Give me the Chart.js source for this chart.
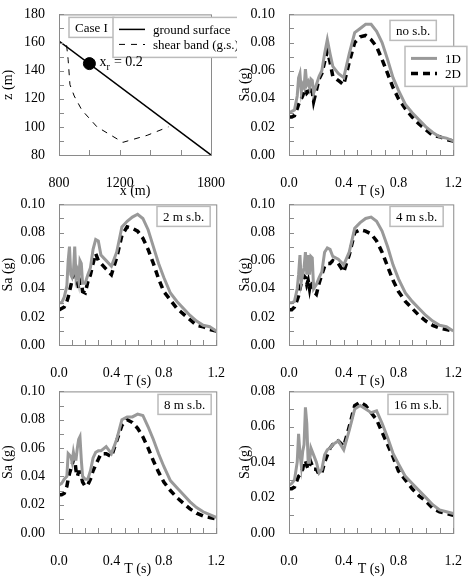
<!DOCTYPE html>
<html>
<head>
<meta charset="utf-8">
<script src="https://cdn.jsdelivr.net/npm/chart.js@4"></script>
<style>
body { margin: 0; background: #fff; }
.p { position: absolute; }
</style>
</head>
<body>
<div id="wrap"></div>
<script>
// periods (s) shared by all spectra
const T = [0,0.02,0.04,0.06,0.07,0.08,0.09,0.10,0.11,0.12,0.13,0.14,0.15,0.16,0.17,0.18,0.20,0.22,0.24,0.26,0.28,0.30,0.32,0.36,0.40,0.44,0.48,0.52,0.56,0.60,0.64,0.68,0.72,0.76,0.80,0.85,0.90,0.95,1.00,1.05,1.10,1.15,1.20];

const noSb1D = [0.030,0.031,0.032,0.042,0.055,0.058,0.045,0.050,0.048,0.061,0.050,0.052,0.048,0.054,0.053,0.044,0.050,0.056,0.060,0.072,0.082,0.072,0.063,0.058,0.055,0.072,0.087,0.090,0.093,0.093,0.088,0.080,0.068,0.055,0.046,0.036,0.030,0.025,0.020,0.016,0.013,0.012,0.010];
const noSb2D = [0.027,0.027,0.028,0.033,0.036,0.038,0.040,0.042,0.045,0.047,0.044,0.045,0.043,0.046,0.045,0.038,0.046,0.054,0.058,0.066,0.074,0.066,0.056,0.053,0.050,0.066,0.080,0.084,0.085,0.082,0.077,0.068,0.058,0.048,0.040,0.033,0.027,0.022,0.018,0.014,0.013,0.011,0.010];
const sb2m1D = [0.030,0.030,0.034,0.042,0.060,0.070,0.050,0.048,0.052,0.070,0.048,0.052,0.046,0.060,0.058,0.044,0.044,0.050,0.055,0.068,0.075,0.074,0.064,0.060,0.056,0.066,0.084,0.088,0.091,0.093,0.090,0.082,0.070,0.058,0.048,0.037,0.031,0.026,0.021,0.017,0.014,0.013,0.010];
const sb2m2D = [0.025,0.026,0.027,0.031,0.034,0.038,0.042,0.046,0.050,0.050,0.048,0.046,0.040,0.044,0.046,0.038,0.037,0.045,0.050,0.058,0.065,0.060,0.058,0.054,0.050,0.062,0.078,0.084,0.083,0.081,0.076,0.068,0.058,0.047,0.038,0.032,0.026,0.022,0.018,0.014,0.013,0.011,0.010];
const sb4m1D = [0.030,0.030,0.031,0.040,0.050,0.064,0.045,0.050,0.055,0.066,0.050,0.064,0.050,0.063,0.062,0.040,0.043,0.048,0.052,0.066,0.069,0.068,0.063,0.061,0.057,0.066,0.083,0.087,0.090,0.091,0.088,0.081,0.070,0.057,0.047,0.037,0.031,0.026,0.021,0.017,0.014,0.013,0.010];
const sb4m2D = [0.025,0.025,0.027,0.032,0.035,0.040,0.044,0.048,0.049,0.048,0.043,0.046,0.040,0.046,0.045,0.038,0.036,0.044,0.050,0.056,0.058,0.058,0.060,0.058,0.052,0.064,0.080,0.082,0.081,0.079,0.074,0.066,0.056,0.046,0.038,0.031,0.026,0.021,0.017,0.014,0.012,0.011,0.010];
const sb8m1D = [0.034,0.035,0.038,0.040,0.056,0.055,0.054,0.050,0.057,0.052,0.052,0.060,0.066,0.068,0.052,0.040,0.038,0.038,0.044,0.053,0.057,0.058,0.058,0.061,0.056,0.066,0.080,0.082,0.082,0.084,0.083,0.075,0.066,0.056,0.047,0.037,0.032,0.027,0.022,0.018,0.015,0.013,0.011];
const sb8m2D = [0.027,0.027,0.028,0.033,0.038,0.042,0.045,0.048,0.052,0.052,0.044,0.040,0.043,0.043,0.040,0.036,0.033,0.034,0.038,0.044,0.048,0.052,0.056,0.056,0.054,0.065,0.076,0.080,0.078,0.074,0.068,0.060,0.051,0.043,0.036,0.030,0.025,0.021,0.017,0.014,0.012,0.011,0.010];
const sb16m1D = [0.027,0.028,0.030,0.040,0.056,0.045,0.038,0.046,0.050,0.071,0.062,0.040,0.040,0.048,0.046,0.044,0.040,0.034,0.036,0.044,0.047,0.048,0.050,0.052,0.047,0.058,0.070,0.072,0.070,0.068,0.069,0.062,0.054,0.045,0.039,0.032,0.028,0.024,0.020,0.016,0.013,0.012,0.011];
const sb16m2D = [0.025,0.025,0.026,0.030,0.032,0.033,0.035,0.036,0.040,0.041,0.038,0.036,0.038,0.040,0.038,0.036,0.036,0.033,0.034,0.040,0.044,0.048,0.050,0.052,0.049,0.060,0.072,0.074,0.072,0.068,0.064,0.057,0.050,0.043,0.035,0.030,0.025,0.021,0.018,0.014,0.012,0.011,0.010];

// geometry panel (Case I)
const groundX = [800, 1800];
const groundZ = [161, 80];
const bandX = [850, 860, 872, 900, 950, 1050, 1220, 1380, 1520];
const bandZ = [158, 148, 130, 122, 112, 100, 89, 94, 100];
const pointX = [1000];
const pointZ = [145];

const FONT = '"Liberation Serif", "DejaVu Serif", serif';
const pts = (xs, ys) => xs.map((x, i) => ({ x: x, y: ys[i] }));

// frame + inward ticks + text boxes
const decor = {
  id: 'decor',
  afterDraw(chart, args, o) {
    const c = chart.ctx, a = chart.chartArea;
    c.save();
    c.strokeStyle = '#8a8a8a'; c.lineWidth = 1;
    c.strokeRect(a.left + 0.5, a.top + 0.5, a.right - a.left, a.bottom - a.top);
    const xs = chart.scales.x, ys = chart.scales.y;
    c.beginPath();
    for (let v = xs.min; v <= xs.max + 1e-9; v += o.xMinor) {
      const px = Math.round(xs.getPixelForValue(v)) + 0.5;
      c.moveTo(px, a.bottom); c.lineTo(px, a.bottom - 5);
    }
    for (let v = ys.min; v <= ys.max + 1e-9; v += o.yMinor) {
      const py = Math.round(ys.getPixelForValue(v)) + 0.5;
      c.moveTo(a.left, py); c.lineTo(a.left + 5, py);
    }
    c.stroke();
    c.font = '13px ' + FONT; c.fillStyle = '#000'; c.textBaseline = 'middle';
    (o.boxes || []).forEach(b => {
      let w = b.text ? c.measureText(b.text).width + 12 : 0;
      (b.items || []).forEach(it => { w = Math.max(w, c.measureText(it.label).width + 46); });
      const h = b.items ? 10 + b.items.length * 15 : 20;
      const x = a.left + b.x, y = a.top + b.y;
      c.fillStyle = '#fff'; c.fillRect(x, y, w, h);
      c.strokeStyle = '#bbb'; c.lineWidth = 1.5; c.strokeRect(x, y, w, h);
      c.fillStyle = '#000';
      if (b.text) c.fillText(b.text, x + 6, y + h / 2 + 1);
      (b.items || []).forEach((it, i) => {
        const yy = y + 12 + i * 15;
        c.strokeStyle = it.color; c.lineWidth = it.width; c.setLineDash(it.dash);
        c.beginPath(); c.moveTo(x + 6, yy); c.lineTo(x + 32, yy); c.stroke();
        c.setLineDash([]);
        c.fillStyle = '#000';
        c.textAlign = it.right ? 'right' : 'left';
        c.fillText(it.label, it.right ? x + w - 6 : x + 40, yy + 1);
        c.textAlign = 'left';
      });
    });
    if (o.xr) {
      c.font = '14px ' + FONT;
      const px = xs.getPixelForValue(o.xr.x) + 10, py = ys.getPixelForValue(o.xr.y);
      c.fillText('x', px, py - 1);
      c.font = '10px ' + FONT; c.fillText('r', px + 7, py + 4);
      c.font = '14px ' + FONT; c.fillText(' = 0.2', px + 11, py - 1);
    }
    c.restore();
  }
};

function axis(title, min, max, step, dec, pad) {
  return {
    type: 'linear', min: min, max: max,
    border: { display: false },
    grid: { display: false },
    ticks: { stepSize: step, color: '#000', font: { family: FONT, size: 14 },
      callback: v => v.toFixed(dec), maxRotation: 0, autoSkip: false, padding: pad },
    title: { display: true, text: title, color: '#000', font: { family: FONT, size: 14 }, padding: 0 }
  };
}

function panel(left, top, h, padR, yW, datasets, xs, ys, decorOpts) {
  const w = 237;
  const cv = document.createElement('canvas');
  cv.width = w; cv.height = h;
  cv.className = 'p';
  cv.style.left = left + 'px'; cv.style.top = top + 'px';
  cv.style.width = w + 'px'; cv.style.height = h + 'px';
  document.getElementById('wrap').appendChild(cv);
  xs.afterFit = sc => { sc.height = 45; };
  ys.afterFit = sc => { sc.width = yW; };
  new Chart(cv.getContext('2d'), {
    type: 'line',
    data: { datasets: datasets },
    options: {
      responsive: false, animation: false,
      layout: { padding: { top: 11, right: padR, left: 0, bottom: 0 } },
      scales: { x: xs, y: ys },
      plugins: { legend: { display: false }, tooltip: { enabled: false }, decor: decorOpts }
    },
    plugins: [decor]
  });
}

function spectra(d1, d2) {
  return [
    { data: pts(T, d1), borderColor: '#999', borderWidth: 3, pointRadius: 0, tension: 0 },
    { data: pts(T, d2), borderColor: '#000', borderWidth: 3.5, borderDash: [7, 5], pointRadius: 0, tension: 0 }
  ];
}

const specLegend = [
  { label: '1D', color: '#999', width: 3, dash: [], right: true },
  { label: '2D', color: '#000', width: 3.5, dash: [7, 5], right: true }
];

const tx = () => axis('T (s)', 0, 1.2, 0.4, 1, 12);
const sa = (max) => axis('Sa (g)', 0, max, 0.02, 2, 6);

// Case I geometry
panel(0, 0, 200, 6, 59, [
  { data: pts(groundX, groundZ), borderColor: '#000', borderWidth: 1.5, pointRadius: 0 },
  { data: pts(bandX, bandZ), borderColor: '#000', borderWidth: 1, borderDash: [6, 6], pointRadius: 0 },
  { data: pts(pointX, pointZ), showLine: false, pointRadius: 6, pointBackgroundColor: '#000', pointBorderColor: '#000' }
], axis('x (m)', 800, 1800, 400, 0, 12), axis('z (m)', 80, 180, 20, 0, 6),
{ xMinor: 200, yMinor: 10, xr: { x: 1000, y: 145 }, boxes: [
  { text: 'Case I', x: 10, y: 3 },
  { x: 54, y: 3, items: [
    { label: 'ground surface', color: '#000', width: 1.5, dash: [] },
    { label: 'shear band (g.s.)', color: '#000', width: 1, dash: [6, 6] }
  ] }
] });

panel(237, 0, 200, 12, 52, spectra(noSb1D, noSb2D), tx(), sa(0.1),
  { xMinor: 0.1, yMinor: 0.01, boxes: [ { text: 'no s.b.', x: 101, y: 6 }, { x: 116, y: 32, items: specLegend } ] });

panel(0, 190, 200, 6, 59, spectra(sb2m1D, sb2m2D), tx(), sa(0.1),
  { xMinor: 0.1, yMinor: 0.01, boxes: [ { text: '2 m s.b.', x: 98, y: 2 } ] });

panel(237, 190, 200, 12, 52, spectra(sb4m1D, sb4m2D), tx(), sa(0.1),
  { xMinor: 0.1, yMinor: 0.01, boxes: [ { text: '4 m s.b.', x: 101, y: 2 } ] });

panel(0, 377, 201, 6, 59, spectra(sb8m1D, sb8m2D), tx(), sa(0.1),
  { xMinor: 0.1, yMinor: 0.01, boxes: [ { text: '8 m s.b.', x: 99, y: 3 } ] });

panel(237, 377, 201, 12, 52, spectra(sb16m1D, sb16m2D), tx(), sa(0.08),
  { xMinor: 0.1, yMinor: 0.01, boxes: [ { text: '16 m s.b.', x: 99, y: 3 } ] });
</script>
</body>
</html>
